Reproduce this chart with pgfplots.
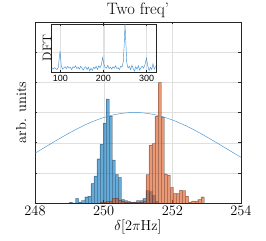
\documentclass[border=0pt]{standalone}
\usepackage{pgfplots}
\pgfplotsset{compat=1.18}
\usepackage{fontspec}
\newfontfamily\insetfont{Liberation Sans}
\definecolor{mblue}{rgb}{0,0.447,0.741}
\definecolor{lblue}{rgb}{0.25,0.58,0.84}
\definecolor{morange}{rgb}{0.85,0.325,0.098}
\definecolor{axgray}{rgb}{0.15,0.15,0.15}
\begin{document}
\begin{tikzpicture}
\useasboundingbox (-35pt,-38pt) rectangle (231pt,203pt);
\begin{axis}[
  at={(0pt,0pt)}, anchor=south west,
  scale only axis, width=206pt, height=181pt,
  xmin=248, xmax=254, ymin=0, ymax=6,
  xtick={248,250,252,254},
  ytick={0,1,2,3,4,5,6}, yticklabels={},
  grid=major,
  major grid style={black!12, line width=0.3pt},
  axis line style={axgray, line width=0.4pt},
  tick style={axgray, line width=0.4pt},
  tick align=inside, major tick length=2.5pt,
  xticklabel style={font=\fontsize{14.5}{14.5}\selectfont},
  title={Two freq'},
  title style={font=\fontsize{16.5}{16.5}\selectfont, at={(axis description cs:0.5,1)}, anchor=south, yshift=-5.5pt},
  xlabel={$\delta[2\pi\mathrm{Hz}]$},
  xlabel style={font=\fontsize{14.5}{14.5}\selectfont, yshift=3pt},
  ylabel={arb. units},
  ylabel style={font=\fontsize{14.5}{14.5}\selectfont, at={(axis description cs:-0.025,0.5)}, anchor=south},
  clip=true,
]
% blue histogram
\addplot[ybar interval, fill=mblue, fill opacity=0.6, draw=black, draw opacity=0.25, line width=0.3pt] coordinates {
(249.002,0.03) (249.091,0) (249.180,0.15) (249.269,0.04) (249.358,0.08) (249.447,0.21)
(249.536,0.23) (249.625,0.65) (249.714,0.90) (249.803,1.47) (249.892,1.95) (249.981,2.66)
(250.070,3.45) (250.159,2.88) (250.248,1.43) (250.337,0.95) (250.426,0.85) (250.515,0.12)
(250.604,0.08) (250.693,0.05) (250.782,0.03) (250.871,0.04) (250.960,0.08) (251.049,0.08)
(251.138,0.15) (251.227,0.41) (251.316,0.38) (251.405,0.25) (251.494,0.05) (251.583,0)
};
% orange histogram
\addplot[ybar interval, fill=morange, fill opacity=0.6, draw=black, draw opacity=0.25, line width=0.3pt] coordinates {
(249.892,0.04) (249.981,0.03) (250.070,0.05) (250.159,0.06) (250.248,0.15) (250.337,0.16)
(250.426,0.10) (250.515,0.07) (250.604,0.04) (250.693,0.02) (250.782,0.02) (250.871,0.02)
(250.960,0.02) (251.049,0.03) (251.138,0.05) (251.227,0.94) (251.316,1.92) (251.405,1.97)
(251.494,2.88) (251.583,3.99) (251.672,2.86) (251.761,0.97) (251.850,0.93) (251.939,0.52)
(252.028,0.32) (252.117,0.32) (252.206,0.43) (252.295,0.41) (252.384,0.23) (252.473,0.04)
(252.562,0.07) (252.651,0.07) (252.740,0.12) (252.829,0.21) (252.918,0)
};
% envelope curve
\addplot[lblue, line width=0.45pt, smooth] coordinates {
(248,1.650) (248.25,1.821) (248.5,1.992) (248.75,2.159) (249,2.321) (249.25,2.472)
(249.5,2.610) (249.75,2.731) (250,2.832) (250.25,2.911) (250.5,2.966) (250.75,2.995)
(251,2.998) (251.25,2.974) (251.5,2.924) (251.75,2.850) (252,2.753) (252.25,2.635)
(252.5,2.501) (252.75,2.352) (253,2.192) (253.25,2.026) (253.5,1.855) (253.75,1.684) (254,1.515)
};
\end{axis}
\begin{axis}[
  at={(16pt,131pt)}, anchor=south west,
  scale only axis, width=105pt, height=48pt,
  xmin=78, xmax=322, ymin=0, ymax=1,
  xtick={100,200,300}, xticklabels={100,200,300},
  ytick=\empty,
  xmajorgrids,
  major grid style={black!12, line width=0.3pt},
  axis line style={axgray, line width=0.4pt},
  tick style={axgray, line width=0.4pt},
  tick align=inside, major tick length=2pt,
  xticklabel style={font=\insetfont\fontsize{9}{9}\selectfont},
  ylabel={DFT},
  ylabel style={font=\fontsize{12.5}{12.5}\selectfont, yshift=-4pt},
]
\addplot[lblue, line width=0.45pt] coordinates {
(80,0.08) (83,0.06) (86,0.09) (89,0.07) (92,0.05) (95,0.10) (99,0.44) (102,0.12)
(105,0.06) (108,0.09) (111,0.11) (114,0.07) (117,0.12) (120,0.08) (123,0.10) (126,0.05)
(129,0.11) (132,0.09) (135,0.13) (138,0.07) (141,0.10) (144,0.06) (147,0.12) (150,0.08)
(153,0.04) (156,0.09) (159,0.11) (162,0.05) (165,0.10) (168,0.02) (171,0.08) (174,0.03)
(177,0.10) (180,0.07) (183,0.12) (186,0.05) (189,0.13) (192,0.09) (195,0.15) (198,0.30)
(201,0.16) (204,0.10) (207,0.08) (210,0.14) (213,0.07) (216,0.10) (219,0.06) (222,0.11)
(225,0.08) (228,0.13) (231,0.07) (234,0.09) (237,0.05) (240,0.12) (243,0.10) (246,0.22)
(248,0.55) (250,1.00) (252,0.60) (254,0.20) (257,0.08) (260,0.12) (263,0.05) (266,0.14)
(269,0.07) (272,0.02) (275,0.11) (278,0.06) (281,0.13) (284,0.04) (287,0.09) (290,0.12)
(293,0.08) (296,0.14) (300,0.29) (303,0.12) (306,0.03) (309,0.10) (312,0.05) (315,0.17)
(318,0.06) (321,0.12)
};
\end{axis}
\end{tikzpicture}
\end{document}
